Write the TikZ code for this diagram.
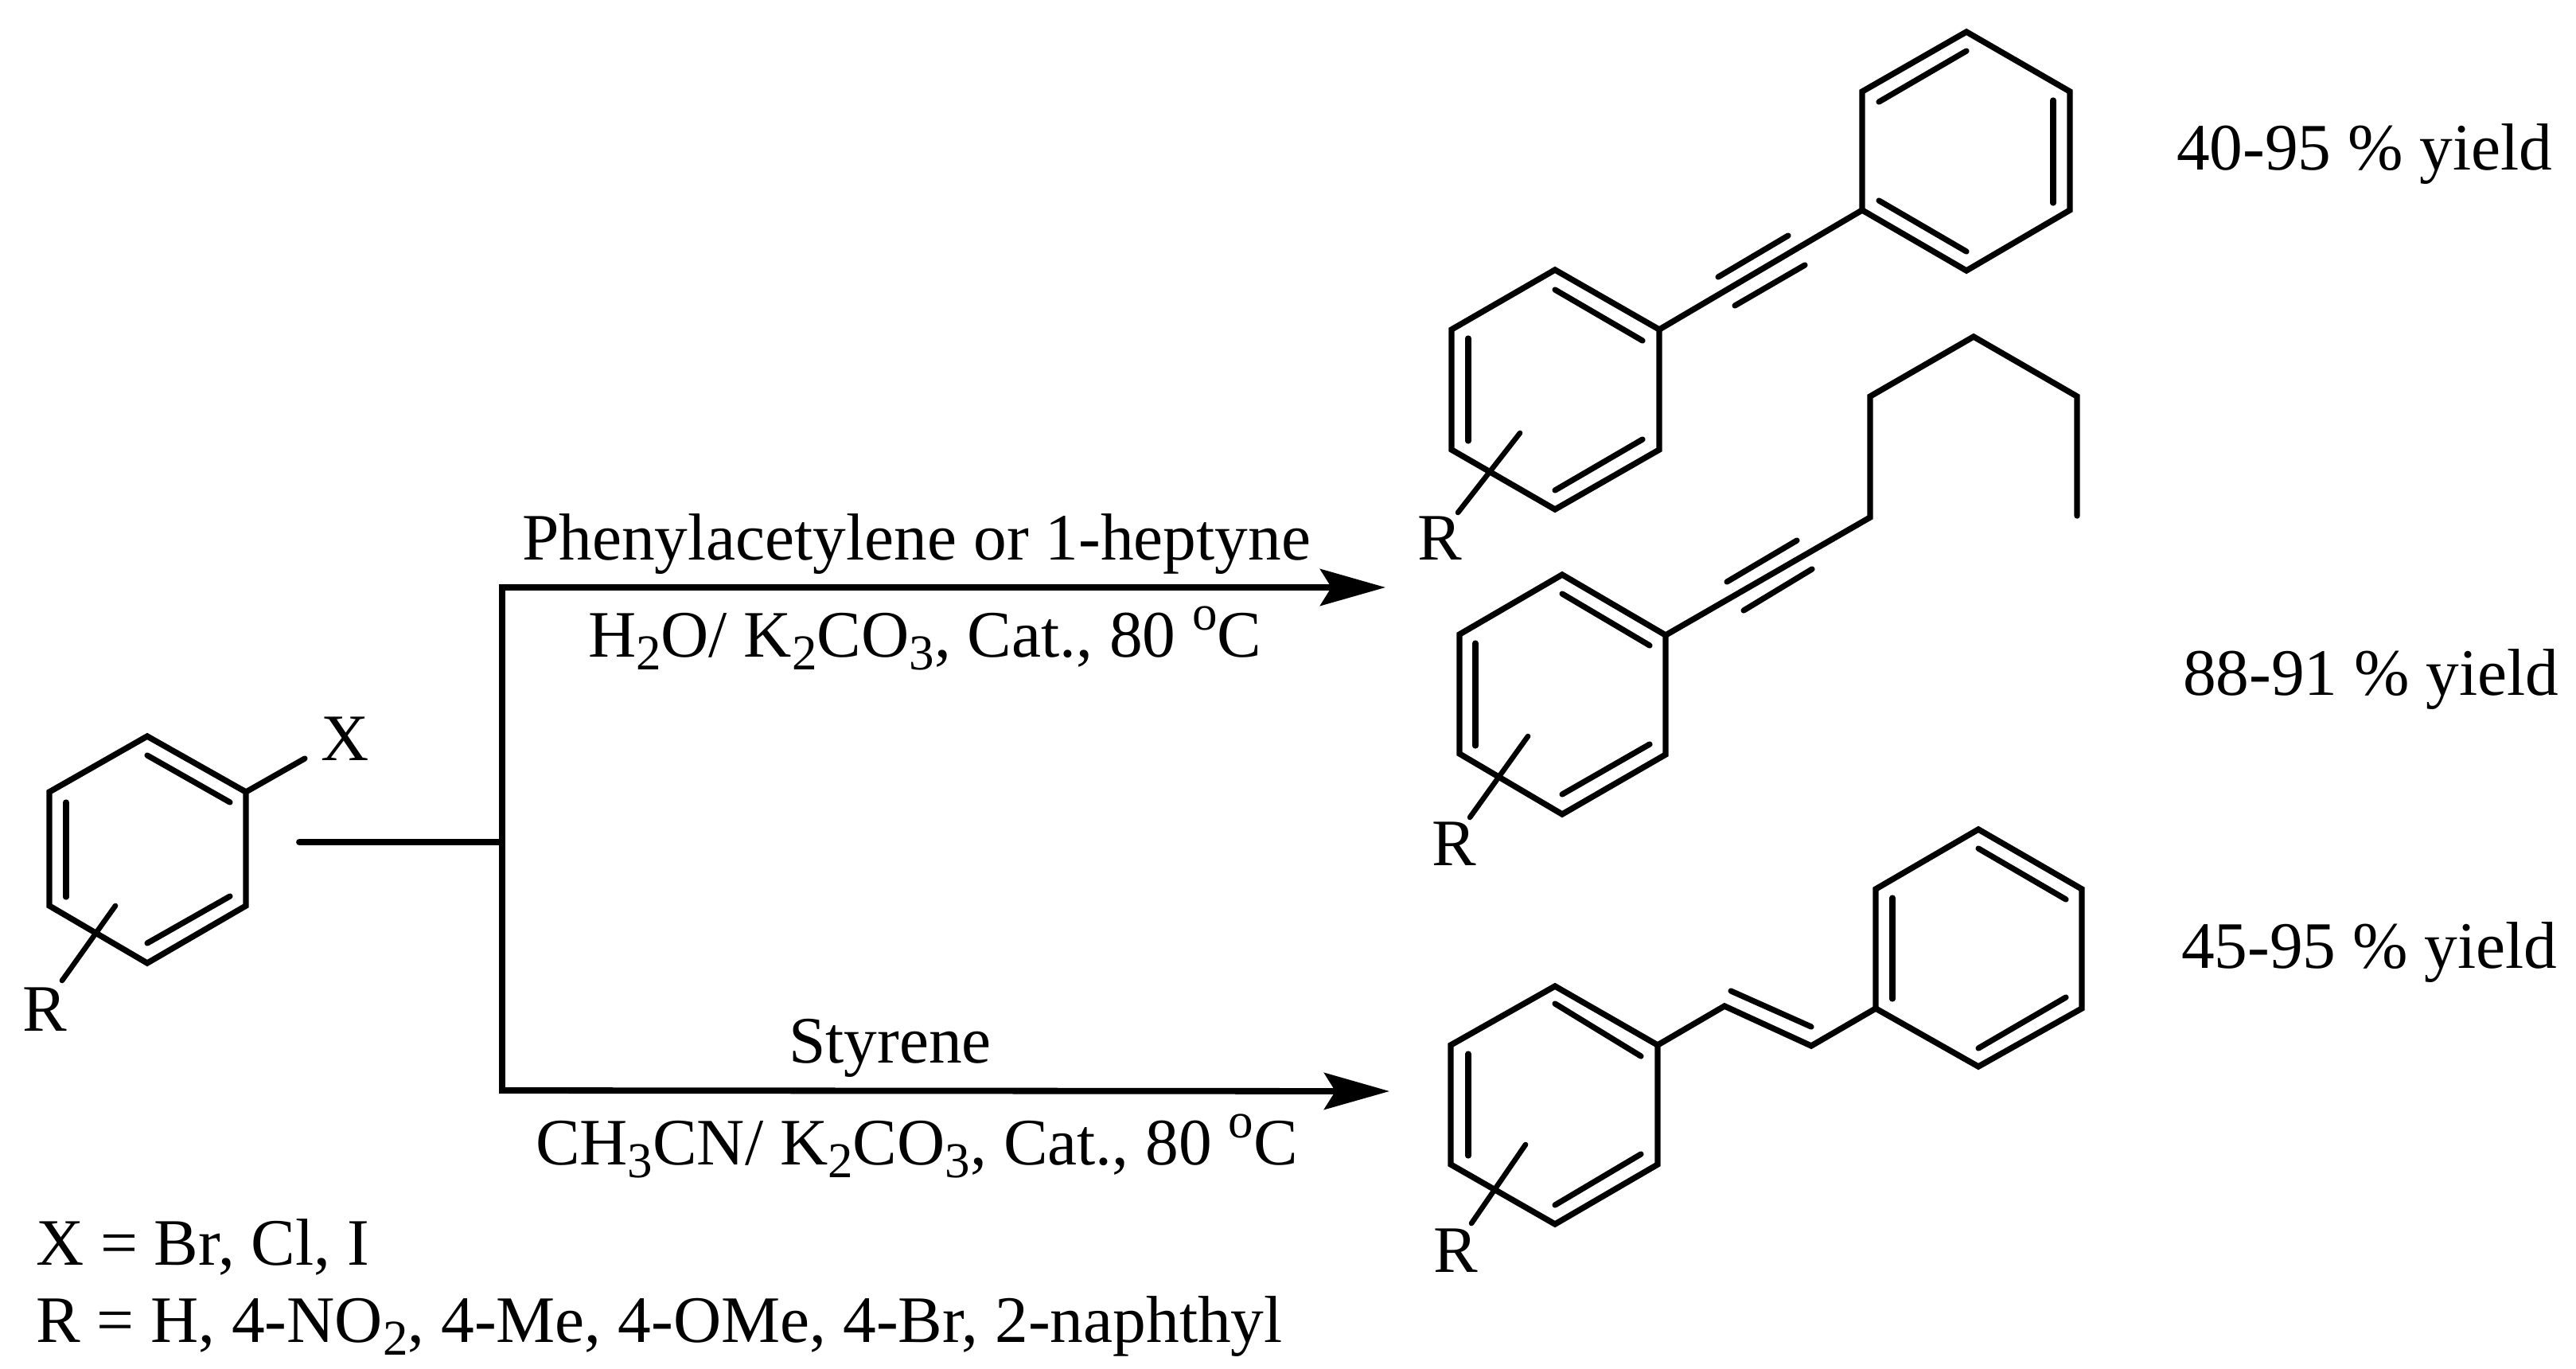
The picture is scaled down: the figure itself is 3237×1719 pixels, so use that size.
\documentclass[tikz,border=0pt]{standalone}
\usepackage{fontspec}
\setmainfont{Liberation Serif}
\usetikzlibrary{arrows.meta}
\newcommand{\lowtxt}[1]{\raisebox{-.2em}{\fontsize{31.5}{31.5}\selectfont #1}}
\newcommand{\hightxt}[1]{\raisebox{.4em}{\fontsize{31.5}{31.5}\selectfont #1}}
% \ringsix{name}{upper-left}{top}{upper-right}{lower-right}{bottom}{lower-left}
\newcommand{\ringsix}[7]{%
  \coordinate (#1a) at #2; \coordinate (#1b) at #3; \coordinate (#1c) at #4;
  \coordinate (#1d) at #5; \coordinate (#1e) at #6; \coordinate (#1f) at #7;
  \draw[bond,miter limit=10] (#1a) -- (#1b) -- (#1c) -- (#1d) -- (#1e) -- (#1f) -- cycle;}
\tikzset{
  bond/.style={line width=3.7pt,line join=miter,line cap=round},
  inner/.style={line width=3.6pt,line cap=round},
  rbond/.style={line width=3.3pt,line cap=round},
  route/.style={line width=3.9pt,line cap=butt},
  txt/.style={anchor=base west,inner sep=0pt,outer sep=0pt,font=\fontsize{41.7}{41.7}\selectfont},
  head/.style={-{Stealth[length=41pt,width=23pt,inset=7pt]}}
}
\begin{document}
\begin{tikzpicture}[x=0.5pt,y=-0.5pt]
\useasboundingbox (0,0) rectangle (3237,1719);
\fill[white] (0,0) rectangle (3237,1719);
% reactant
\ringsix{s}{(62,995)}{(185,925)}{(309,995)}{(309,1138)}{(185,1210)}{(62,1138)}
\draw[inner] (185,949) -- (289,1008);
\draw[inner] (83,1008) -- (83,1127);
\draw[inner] (289,1126) -- (185,1185);
\coordinate (xend) at (383,953);
\draw[inner] (sc) -- (xend);
\draw[rbond] (145,1138) -- (78,1232);
\node[txt] (sx) at (403,955) {X};
\node[txt] (sr) at (28,1295) {R};
% routes
\coordinate (feed) at (376,1058);
\coordinate (fork) at (631,1058);
\coordinate (forkt) at (631,738);
\coordinate (forkb) at (631,1370);
\coordinate (tipt) at (1741,738);
\coordinate (tipb) at (1746,1371);
\draw[route,line cap=round] (feed) -- (fork);
\draw[route] (forkt) -- (forkb);
\draw[route,head] ([xshift=-1.9pt]forkt) -- (tipt);
\draw[route,head] ([xshift=-1.9pt]forkb) -- (tipb);
\node[txt] (l1) at (656,703) {Phenylacetylene or 1-heptyne};
\node[txt] (l2) at (739,825) {H\lowtxt{2}O/ K\lowtxt{2}CO\lowtxt{3}, Cat., 80 \hightxt{o}C};
\node[txt] (l3) at (991,1335) {Styrene};
\node[txt] (l4) at (673,1463) {CH\lowtxt{3}CN/ K\lowtxt{2}CO\lowtxt{3}, Cat., 80 \hightxt{o}C};
\node[txt] (l5) at (45,1589) {X = Br, Cl, I};
\node[txt] (l6) at (45,1686) {R = H, 4-NO\lowtxt{2}, 4-Me, 4-OMe, 4-Br, 2-naphthyl};
% diphenylacetylene
\ringsix{p}{(2340,115)}{(2471,40)}{(2601,115)}{(2601,264)}{(2471,340)}{(2340,264)}
\draw[inner] (2471,64) -- (2361,128);
\draw[inner] (2580,126) -- (2580,255);
\draw[inner] (2361,252) -- (2471,316);
\ringsix{q}{(1824,414)}{(1954,339)}{(2085,414)}{(2085,565)}{(1954,640)}{(1824,565)}
\draw[inner] (1954,364) -- (2064,428);
\draw[inner] (1845,425) -- (1845,554);
\draw[inner] (1954,616) -- (2064,552);
\draw[bond] (qc) -- (pf);
\draw[inner] (2247,296) -- (2159,348);
\draw[inner] (2268,333) -- (2180,384);
\draw[rbond] (1910,544) -- (1832,644);
\node[txt] (r1) at (1781,703) {R};
% heptynyl
\ringsix{h}{(1834,797)}{(1963,722)}{(2093,798)}{(2093,948)}{(1963,1023)}{(1834,947)}
\draw[inner] (1963,746) -- (2073,811);
\draw[inner] (1854,808) -- (1854,937);
\draw[inner] (1963,998) -- (2073,935);
\coordinate (c1) at (2350,650);
\coordinate (c2) at (2350,498);
\coordinate (c3) at (2480,423);
\coordinate (c4) at (2610,498);
\coordinate (c5) at (2610,648);
\draw[bond] (hc) -- (c1) -- (c2) -- (c3) -- (c4) -- (c5);
\draw[inner] (2258,679) -- (2170,731);
\draw[inner] (2277,715) -- (2191,767);
\draw[rbond] (1920,925) -- (1847,1027);
\node[txt] (r2) at (1799,1087) {R};
% stilbene
\ringsix{a}{(1823,1313)}{(1954,1239)}{(2083,1313)}{(2083,1463)}{(1954,1538)}{(1823,1463)}
\draw[inner] (1954,1261) -- (2062,1327);
\draw[inner] (1845,1324) -- (1845,1452);
\draw[inner] (1954,1514) -- (2062,1450);
\ringsix{b}{(2357,1117)}{(2486,1042)}{(2616,1117)}{(2616,1267)}{(2486,1340)}{(2357,1267)}
\draw[inner] (2378,1128) -- (2378,1255);
\draw[inner] (2486,1066) -- (2596,1130);
\draw[inner] (2486,1317) -- (2596,1253);
\coordinate (v1) at (2167,1264);
\coordinate (v2) at (2276,1314);
\draw[bond] (ac) -- (v1) -- (v2) -- (bf);
\draw[inner] (2175,1245) -- (2276,1290);
\draw[rbond] (1917,1438) -- (1849,1537);
\node[txt] (r3) at (1801,1598) {R};
% yields
\node[txt] (y1) at (2735,213) {40-95 \% yield};
\node[txt] (y2) at (2743,873) {88-91 \% yield};
\node[txt] (y3) at (2741,1216) {45-95 \% yield};
\end{tikzpicture}
\end{document}
